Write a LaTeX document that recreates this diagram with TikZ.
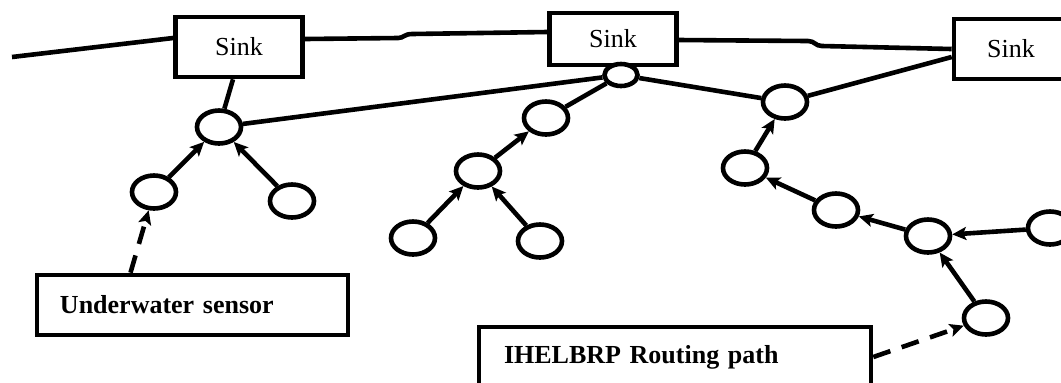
\documentclass[tikz,border=0pt]{standalone}
\usepackage{fontspec}
\setmainfont{Liberation Serif}
\usetikzlibrary{arrows.meta,shapes.geometric}

\begin{document}
\begin{tikzpicture}[x=0.5pt,y=-0.5pt,>={Stealth[length=7pt,width=6.5pt,inset=1.5pt]},line width=2.3pt,font=\fontsize{13}{15}\selectfont]
  \tikzstyle{sink}=[draw,rectangle,minimum width=63.5pt,minimum height=30pt,fill=white]
  \tikzstyle{sensor}=[draw,ellipse,minimum width=22pt,minimum height=16.5pt,inner sep=0pt,fill=white]
  \tikzstyle{hop}=[->]
  \tikzstyle{note}=[draw,rectangle,font=\fontsize{13}{15}\selectfont\bfseries,align=left,minimum height=30pt]
  \tikzstyle{pointer}=[->,dash pattern=on 9pt off 6pt]

  \useasboundingbox (0,0) rectangle (1061,382);

  % sinks on the surface
  \node[sink]                      (s1) at (239,47)  {Sink};
  \node[sink,minimum height=26pt]  (s2) at (613,39)  {Sink};
  \node[sink,minimum width=57pt]   (s3) at (1011,49) {Sink};
  \coordinate (farleft) at (12,57);

  \draw (farleft) -- ([yshift=4.5pt]s1.west);
  \draw ([yshift=4pt]s1.east) -- (398,38) .. controls (404,38) and (404,34) .. (412,34) -- ([yshift=3.5pt]s2.west);
  \draw ([yshift=-0.5pt]s2.east) -- (808,41) .. controls (815,41) and (815,46) .. (822,46) -- (s3.west);

  % sensors
  \node[sensor]                                    (a1) at (219,127) {};
  \node[sensor]                                    (a2) at (154,192) {};
  \node[sensor]                                    (a3) at (292,201) {};
  \node[sensor,minimum width=16.5pt,minimum height=11pt] (b0) at (621,75) {};
  \node[sensor]                                    (b1) at (546,118) {};
  \node[sensor]                                    (b2) at (478,171) {};
  \node[sensor]                                    (b3) at (413,238) {};
  \node[sensor]                                    (b4) at (540,241) {};
  \node[sensor]                                    (c1) at (785,102) {};
  \node[sensor]                                    (c2) at (745,168) {};
  \node[sensor]                                    (c3) at (836,210) {};
  \node[sensor]                                    (c4) at (928,236) {};
  \node[sensor]                                    (c5) at (1050,228) {};
  \node[sensor]                                    (c6) at (986,318) {};

  % links to the sinks
  \draw ([xshift=-3pt]s1.south) -- (a1);
  \draw (a1) -- (b0);
  \draw (b0) -- (b1);
  \draw (b0) -- (c1);
  \draw ([yshift=-4pt]s3.west) -- (c1);

  % routing hops
  \draw[hop] (a2) -- (a1);
  \draw[hop] (a3) -- (a1);
  \draw[hop] (b2) -- (b1);
  \draw[hop] (b3) -- (b2);
  \draw[hop] (b4) -- (b2);
  \draw[hop] (c2) -- (c1);
  \draw[hop] (c3) -- (c2);
  \draw[hop] (c4) -- (c3);
  \draw[hop] (c5) -- (c4);
  \draw[hop] (c6) -- (c4);

  % labels
  \node[note,text width=132.5pt,inner xsep=11.5pt] (uw)  at (192.5,305) {Underwater sensor};
  \node[note,text width=171pt,inner xsep=12.5pt]   (irp) at (675,357)   {IHELBRP Routing path};

  \draw[pointer] ([xshift=-31pt]uw.north) -- (a2);
  \draw[pointer] (irp.east) -- (c6);
\end{tikzpicture}
\end{document}
